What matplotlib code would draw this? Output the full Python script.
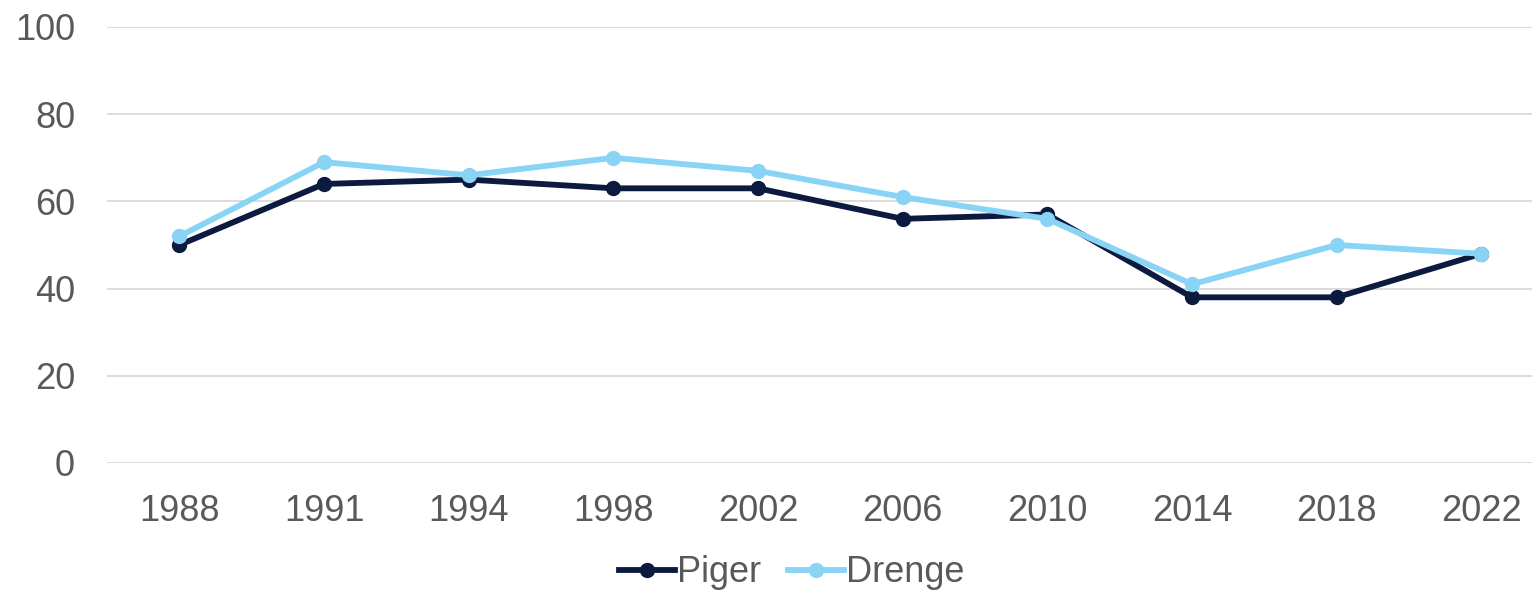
import matplotlib
matplotlib.use("Agg")
import matplotlib.pyplot as plt

years = ["1988", "1991", "1994", "1998", "2002", "2006", "2010", "2014", "2018", "2022"]
piger = [50, 64, 65, 63, 63, 56, 57, 38, 38, 48]
drenge = [52, 69, 66, 70, 67, 61, 56, 41, 50, 48]
yticks = [0, 20, 40, 60, 80, 100]

plt.rcParams['font.family'] = ['Liberation Sans', 'DejaVu Sans']
W, H = 1532, 593
fig = plt.figure(figsize=(W/100, H/100), dpi=100)
ax = fig.add_axes([107/W, 1-463/H, (1532-107)/W, (463-27)/H])

x = list(range(len(years)))
navy = '#0C1A3F'
light = '#89D3F5'
ax.plot(x, piger, color=navy, lw=4.2, marker='o', ms=10, label='Piger', zorder=3)
ax.plot(x, drenge, color=light, lw=4.2, marker='o', ms=10, label='Drenge', zorder=4)

ax.set_ylim(0, 100)
ax.set_xlim(-0.5, (1532-180)/144.6)
ax.set_yticks(yticks)
ax.set_xticks(x)
ax.set_xticklabels(years)
ax.grid(axis='y', color='#D9D9D9', lw=1.3)
ax.set_axisbelow(True)
for s in ax.spines.values():
    s.set_visible(False)
ax.tick_params(length=0, labelsize=26, labelcolor='#595959')
ax.tick_params(axis='x', pad=22)
ax.tick_params(axis='y', pad=23)

leg = ax.legend(loc='center', bbox_to_anchor=((792 - 107)/(1532-107), -(573-463)/(463-27)),
                ncol=2, frameon=False, fontsize=26, handlelength=1.55, columnspacing=0.75,
                handletextpad=0.05, labelcolor='#595959')
fig.savefig('out.png', dpi=100)
